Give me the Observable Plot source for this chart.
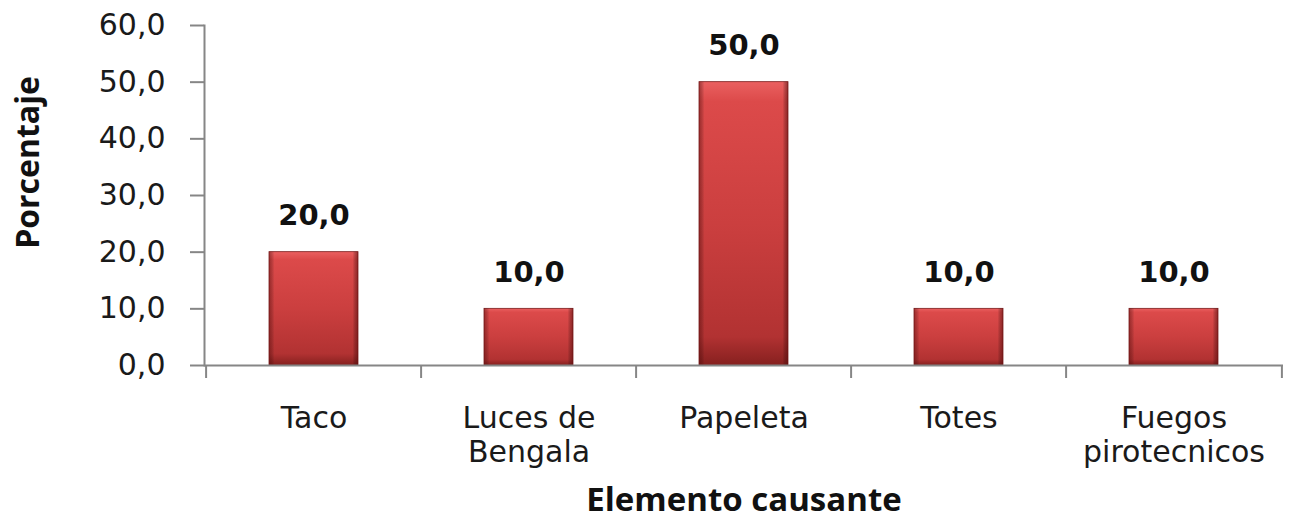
<!DOCTYPE html>
<html><head><meta charset="utf-8">
<script src="https://cdn.jsdelivr.net/npm/d3@7"></script>
<script src="https://cdn.jsdelivr.net/npm/@observablehq/plot@0.6"></script>
<style>body{margin:0;background:#fff;} svg{display:block}</style>
</head><body><div id="chart"></div>
<script>
const categories = ["Taco", "Luces de\nBengala", "Papeleta", "Totes", "Fuegos\npirotecnicos"];
const values = [20, 10, 50, 10, 10];
const yTicks = [0, 10, 20, 30, 40, 50, 60];
const yLabel = "Porcentaje";
const xLabel = "Elemento causante";

const data = categories.map((c, i) => ({cat: c, value: values[i]}));
const fmt = v => v.toFixed(1).replace(".", ",");
const W = 1290, H = 518, mL = 204, mR = 7, mT = 25, mB = 153;
const step = (W - mL - mR) / categories.length;
const font = "'DejaVu Sans', sans-serif";
const titleFont = "'Open Sans', 'Noto Sans', sans-serif";
const axisGray = "#868686";

const chart = Plot.plot({
  width: W, height: H,
  marginLeft: mL, marginRight: mR, marginTop: mT, marginBottom: mB,
  style: {fontFamily: font, fontSize: "30px", color: "#1a1a1a", background: "#fff", overflow: "visible"},
  x: {domain: categories, paddingInner: 0.587, paddingOuter: 0.2935, label: null},
  y: {domain: [0, 60], label: null},
  marks: [
    Plot.barY(data, {x: "cat", y: "value", fill: "url(#barV)", stroke: "#7a1c1c", strokeWidth: 0.8}),
    Plot.barY(data, {x: "cat", y: "value", fill: "url(#barH)"}),
    Plot.frame({anchor: "left", stroke: axisGray, strokeWidth: 2}),
    Plot.ruleY([0], {stroke: axisGray, strokeWidth: 2}),
    Plot.axisY({ticks: yTicks, tickFormat: fmt, tickSize: 14, tickPadding: 25, stroke: axisGray, strokeWidth: 2, fill: "#1a1a1a", fontSize: 30, label: null}),
    Plot.axisX({tickSize: 13, tickFormat: () => "", dx: -step / 2, stroke: axisGray, strokeWidth: 2, label: null}),
    Plot.axisX({ticks: [categories[categories.length - 1]], tickSize: 13, tickFormat: () => "", dx: step / 2, stroke: axisGray, strokeWidth: 2, label: null}),
    Plot.axisX({tickSize: 0, tickPadding: 39, lineHeight: 1.12, fill: "#1a1a1a", fontSize: 30, label: null}),
    Plot.text(data, {x: "cat", y: "value", text: d => fmt(d.value), lineAnchor: "bottom", dy: -27, fontWeight: "bold", fontSize: 29, fill: "#111"}),
    Plot.text([yLabel], {frameAnchor: "left", text: d => d, rotate: -90, textAnchor: "middle", lineAnchor: "bottom", dx: -166, dy: -33, fontFamily: titleFont, fontWeight: "bold", fontSize: 32, fill: "#111"}),
    Plot.text([xLabel], {frameAnchor: "bottom", text: d => d, textAnchor: "middle", lineAnchor: "bottom", dy: 145, fontFamily: titleFont, fontWeight: "bold", fontSize: 33, fill: "#111"})
  ]
});

const svg = d3.select(chart);
const defs = svg.insert("defs", ":first-child");
const gv = defs.append("linearGradient").attr("id", "barV").attr("x1", 0).attr("y1", 0).attr("x2", 0).attr("y2", 1);
[[0, "#ea6060"], [0.07, "#dc4a4a"], [0.5, "#cb3f3f"], [0.9, "#b23232"], [1, "#86201f"]]
  .forEach(([o, c]) => gv.append("stop").attr("offset", o).attr("stop-color", c));
const gh = defs.append("linearGradient").attr("id", "barH").attr("x1", 0).attr("y1", 0).attr("x2", 1).attr("y2", 0);
[[0, "#5a0a0a", 0.45], [0.06, "#000", 0], [0.94, "#000", 0], [1, "#5a0a0a", 0.55]]
  .forEach(([o, c, a]) => gh.append("stop").attr("offset", o).attr("stop-color", c).attr("stop-opacity", a));

document.getElementById("chart").appendChild(chart);
</script>
</body></html>
